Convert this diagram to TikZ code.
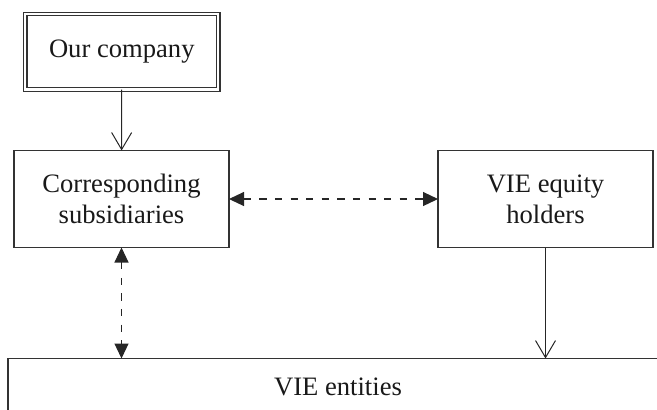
\documentclass[tikz,border=0pt]{standalone}
\usepackage{fontspec}
\setmainfont{Liberation Serif}
\usetikzlibrary{arrows.meta}

\begin{document}
\begin{tikzpicture}[x=0.5pt,y=-0.5pt]
  \tikzset{BoxStyle/.style = {
    shape         = rectangle,
    draw          = black!80,
    fill          = white,
    line width    = 0.65pt,
    text          = black!90,
    align         = center,
    inner sep     = 0pt,
    outer sep     = 0pt,
    font          = \fontsize{13.3}{15.6}\selectfont
    }
  }
  \tikzset{TopBoxStyle/.style = {
    BoxStyle,
    double          = white,
    line width      = 0.6pt,
    double distance = 1.1pt
    }
  }
  \tikzset{EdgeStyle/.style = {
    draw          = black!85,
    line width    = 0.5pt,
    -{Straight Barb[length=8.5pt,width=10pt,line width=0.5pt]}
    }
  }
  \tikzset{LinkStyle/.style = {
    draw          = black!85,
    line width    = 0.55pt,
    dash pattern  = on 3.6pt off 4.2pt,
    {Triangle[length=7.5pt,width=7pt]}-{Triangle[length=7.5pt,width=7pt]}
    }
  }

  \useasboundingbox (0,0) rectangle (657,409);
  \clip (0,0) rectangle (657,409);

	\node[TopBoxStyle, minimum width=96.5pt, minimum height=37.75pt](A1) at (121.8, 51.8) {Our company};
	\node[BoxStyle, minimum width=107.5pt, minimum height=48.5pt](B1) at (121.5, 199) {Corresponding\\subsidiaries};
	\node[BoxStyle, minimum width=107.5pt, minimum height=48.5pt](B2) at (545.5, 199) {VIE equity\\holders};
	\node[BoxStyle, minimum width=330pt, minimum height=28pt, anchor=north west](C1) at (8, 358.5) {VIE entities};
	\draw[EdgeStyle](A1) to (B1);
	\draw[LinkStyle](B1) to (B2);
	\draw[LinkStyle](B1.south) to (B1.south |- C1.north);
	\draw[EdgeStyle](B2.south) to (B2.south |- C1.north);

\end{tikzpicture}
\end{document}
